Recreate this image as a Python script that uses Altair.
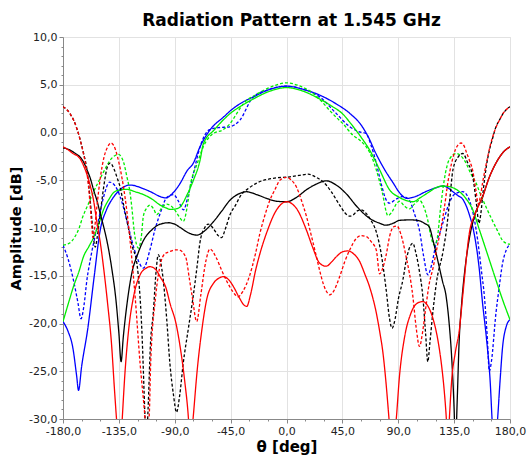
import altair as alt
import pandas as pd

# ---------------- data ----------------
blue_solid_theta = [-180, -176, -172, -169, -167.5, -165, -160, -155, -150, -145, -140, -135, -126, -115,
                    -108, -102, -97, -92, -86, -80, -75, -70, -62, -50, -45, -35, -27, -14, 0, 14, 27, 40,
                    51, 60, 66, 72, 80, 86, 91, 97, 104, 112, 120, 126, 130, 134, 138, 142, 147, 151, 155,
                    158, 161, 164, 166, 168, 170, 172, 174, 177, 180]
blue_solid_amp = [-19.8, -20.8, -22.6, -25.5, -27.0, -24.5, -20.5, -15.2, -10.2, -8.1, -6.9, -6.1, -5.5, -5.9,
                  -6.3, -6.7, -6.85, -6.4, -5.4, -4.0, -3.2, -1.6, 0.2, 1.7, 2.3, 3.2, 3.7, 4.5, 4.85, 4.5, 3.9,
                  3.0, 2.0, 0.8, -0.5, -2.2, -4.1, -5.3, -6.3, -6.9, -6.7, -6.2, -5.8, -5.6, -5.8, -6.2, -6.6,
                  -7.0, -8.5, -10.5, -14.0, -18.0, -21.5, -26.0, -31.0, -33.0, -30.0, -26.0, -22.5, -20.3, -19.6]

blue_dash_theta = [-180, -176, -171.5, -168, -165.5, -163, -160.7, -158, -155.4, -152.7, -147.4, -142.5, -138,
                   -134, -128.6, -124.6, -120.6, -115.2, -110, -106, -101, -96.5, -91, -87, -83, -79, -75,
                   -69.6, -62, -55, -45.6, -37.5, -27, -14, 0, 14, 27, 40, 51, 58, 64, 68, 72.3, 76.5, 80.4,
                   83, 88, 93.7, 99, 103, 107, 110.5, 113.8, 117, 120.5, 124, 127, 131, 136, 142, 147.3, 151,
                   154, 157, 159.4, 161.5, 163.4, 165, 168.7, 171, 174, 177, 180]
blue_dash_amp = [-11.8, -13.2, -15.5, -17.8, -19.5, -18.0, -15.4, -13.3, -11.6, -10.0, -6.8, -5.2, -5.6, -6.7,
                 -9.2, -11.3, -13.0, -14.2, -12.3, -10.2, -8.2, -6.8, -6.5, -7.2, -8.1, -6.5, -4.3, -1.5, 0.3,
                 0.5, 0.6, 1.3, 3.7, 4.5, 4.85, 4.5, 3.7, 2.0, 0.6, 0.1, -0.1, -1.3, -3.2, -5.5, -7.1, -7.4,
                 -7.0, -6.7, -7.1, -8.5, -10.2, -13.0, -14.9, -13.8, -11.6, -10.3, -9.0, -7.4, -6.4, -6.2,
                 -7.1, -8.9, -11.3, -14.5, -17.2, -21.0, -25.0, -24.0, -18.9, -16.5, -13.7, -12.3, -11.7]

green_solid_theta = [-180, -175, -171.5, -167, -163.5, -159, -155.4, -151, -147.4, -143, -139.3, -134, -128.6,
                     -122, -115.2, -108, -101.8, -97, -93.8, -89, -85.7, -80, -75, -69.6, -67, -58, -45.6, -35,
                     -26.9, -14, 0, 14, 26.8, 36, 45.6, 52, 59, 67, 75, 83, 91, 96, 101.8, 108, 115.2, 120,
                     125.9, 132, 139.3, 145, 150, 155.4, 162, 168.7, 174, 180]
green_solid_amp = [-19.8, -17.6, -16.1, -14.5, -13.0, -11.9, -11.0, -9.5, -8.1, -7.0, -6.3, -6.0, -5.95, -6.2,
                   -6.5, -7.0, -7.6, -7.9, -8.05, -8.0, -7.8, -6.5, -5.0, -2.9, -1.2, 0.3, 1.96, 2.9, 3.5,
                   4.3, 4.7, 4.3, 3.5, 2.8, 1.9, 0.9, -0.3, -1.85, -3.9, -6.0, -6.8, -7.1, -7.25, -6.8, -6.2,
                   -5.8, -5.6, -5.7, -6.2, -7.0, -8.1, -10.2, -12.8, -15.45, -17.5, -19.6]

green_dash_theta = [-180, -175, -170.8, -167, -164, -160, -156, -152, -148, -144, -140, -135.3, -131, -128.6,
                    -126, -124.6, -122.5, -119.2, -117, -115.2, -112.5, -110, -107, -104.5, -100, -96.5, -93,
                    -90, -86.5, -83.1, -80, -77.7, -72, -67, -60, -51, -45.6, -40, -34.8, -24.1, -12, 0, 10,
                    21.4, 28, 34.8, 40, 45.6, 53.6, 59, 63, 67, 72.3, 77, 81.7, 85, 88.4, 91, 95, 99, 103, 107,
                    110, 113.8, 116.5, 119.2, 121.5, 124, 127, 131.2, 136.6, 140, 144.6, 148, 152.7, 156, 160.7,
                    165, 170, 174, 177, 180]
green_dash_amp = [-11.8, -11.6, -11.0, -10.0, -8.8, -7.6, -6.4, -5.3, -4.3, -3.3, -2.6, -2.3, -3.2, -4.6, -6.3,
                  -7.8, -10.5, -12.1, -11.0, -8.7, -7.9, -7.6, -8.0, -8.6, -7.8, -7.5, -7.7, -8.1, -8.8, -9.3,
                  -7.8, -5.7, -3.3, -1.5, -0.2, 0.3, 0.9, 2.0, 3.0, 4.0, 4.8, 5.2, 4.9, 4.1, 3.3, 2.3, 1.6,
                  0.9, -0.3, -0.8, -1.3, -2.1, -3.9, -6.2, -8.7, -8.3, -7.5, -7.2, -7.7, -8.0, -7.5, -7.1,
                  -7.6, -9.2, -11.0, -11.8, -11.0, -8.0, -5.0, -2.8, -2.2, -2.4, -3.2, -4.2, -5.3, -6.4, -7.8,
                  -9.0, -10.3, -11.3, -11.6, -11.7]

black_solid_theta = [-180, -175, -170, -166, -163, -160.7, -158, -155.4, -152.5, -150, -147, -144.7, -141, -137,
                     -135, -133.2, -131.5, -128, -124.6, -120, -115.2, -108.5, -101.8, -95, -90, -85.7, -79,
                     -72.3, -65, -58.9, -52, -45.6, -38, -32.2, -24, -16, -8, 0, 8, 16, 24, 32, 40, 48, 57, 67,
                     75, 80, 86, 91, 100, 107, 111, 115, 118, 122, 125.5, 128.6, 131, 133, 135, 136, 137.5, 139,
                     141, 144, 147, 152, 158, 163, 168.7, 175, 180]
black_solid_amp = [-1.6, -1.8, -2.2, -2.6, -3.2, -3.9, -4.8, -6.0, -7.2, -8.5, -10.0, -11.3, -14.0, -18.0, -21.0,
                   -24.0, -21.5, -17.5, -14.75, -12.8, -11.3, -10.2, -9.6, -9.45, -9.6, -9.94, -10.5, -10.74,
                   -10.2, -9.35, -8.2, -7.1, -6.4, -6.2, -6.5, -6.9, -7.2, -7.25, -6.8, -6.0, -5.4, -5.06, -5.5,
                   -6.4, -7.8, -9.0, -9.5, -9.7, -9.5, -9.2, -9.15, -9.25, -9.5, -9.9, -11.3, -13.5, -15.5,
                   -17.2, -20.0, -23.5, -29.0, -33.0, -28.0, -22.0, -18.0, -14.0, -11.3, -8.5, -6.7, -4.8, -3.2,
                   -2.0, -1.5]

black_dash_theta = [-180, -177, -174, -171.5, -168.8, -166.1, -163.4, -160.7, -158.5, -156.7, -155, -154, -152.5,
                    -150, -147, -144.5, -142, -139, -136, -134, -131, -127, -124, -120.5, -116.5, -114, -113,
                    -111.5, -109.5, -107.3, -105, -103.3, -101.5, -99.3, -96.5, -93.9, -91, -88.6, -86, -83.2,
                    -79, -75.2, -72, -69.8, -66, -63, -58.9, -55, -52.3, -49, -45.6, -41, -37.5, -30, -24.1,
                    -10.7, 2.7, 10, 17.4, 24, 29.5, 36, 42.8, 47, 50.9, 54, 57, 60.3, 62, 64.3, 68, 72.3, 76,
                    80.3, 83, 85, 87.5, 90, 93.7, 97, 101.8, 104, 107, 109.8, 112, 113.8, 115.5, 117.8, 121, 126,
                    129, 131.5, 134, 138, 142, 146, 150, 153, 155, 156.5, 158.5, 161, 163.5, 166, 168.7, 171.5,
                    174, 177, 180]
black_dash_amp = [2.7, 2.4, 1.9, 1.3, 0.4, -0.8, -2.2, -3.9, -6.5, -9.2, -11.5, -12.0, -11.0, -8.5, -5.5, -3.7,
                  -3.2, -3.8, -4.9, -5.7, -7.7, -10.2, -12.0, -13.7, -20.7, -29.7, -33.0, -29.0, -22.0, -18.9,
                  -14.5, -12.8, -13.5, -15.4, -19.5, -24.2, -27.5, -29.3, -27.5, -24.2, -20.5, -17.2, -14.0,
                  -11.6, -10.0, -9.6, -10.05, -10.8, -11.0, -10.0, -8.65, -7.6, -6.73, -5.8, -5.3, -4.8, -4.64,
                  -4.5, -4.36, -4.7, -5.16, -6.2, -7.6, -8.4, -8.75, -8.6, -8.2, -8.1, -8.2, -8.5, -9.2, -10.4,
                  -12.5, -16.5, -19.5, -20.5, -19.5, -17.5, -15.45, -13.0, -11.6, -12.5, -14.5, -17.2, -21.0,
                  -24.0, -22.0, -18.9, -15.5, -12.5, -10.0, -7.0, -3.94, -2.6, -2.2, -3.2, -4.6, -7.5, -9.5,
                  -8.5, -6.0, -3.5, -1.8, -0.6, 0.6, 1.3, 1.9, 2.4, 2.7]

red_solid_theta = [-180, -176, -172, -168, -166, -163, -160.7, -158, -155.4, -152.7, -150, -147, -144, -141,
                   -138.5, -136.3, -134, -132.3, -130, -127, -123.2, -117.9, -113, -109.8, -105, -101.8, -97,
                   -93.8, -89, -85.7, -82, -79, -77.5, -75.2, -72, -68, -64.3, -58.9, -55, -50.9, -46, -42.9,
                   -38, -34, -32, -29, -25, -21, -16, -8, 0, 8, 16, 21, 26.8, 32, 36, 40.2, 45, 49.5, 54, 58.9,
                   63, 67, 72.5, 75, 77.7, 80, 82.5, 85, 88.4, 91, 95, 100, 105, 109.8, 114, 118, 122, 125, 127,
                   128.6, 130, 131.2, 133, 136, 139.2, 142, 147.3, 152, 158, 163, 168.7, 175, 180]
red_solid_amp = [-1.5, -1.8, -2.2, -2.5, -2.8, -3.6, -4.4, -5.6, -7.1, -9.4, -11.5, -14.5, -18.0, -22.0, -27.0,
                 -31.0, -34.0, -30.0, -25.0, -20.5, -17.2, -14.9, -14.2, -14.05, -14.4, -15.1, -16.3, -17.9,
                 -20.0, -22.4, -26.0, -29.9, -33.0, -29.9, -25.0, -20.5, -17.5, -15.8, -15.3, -15.1, -15.5,
                 -16.1, -17.3, -18.1, -18.2, -17.0, -14.5, -12.5, -10.5, -8.1, -7.25, -7.95, -10.2, -12.0,
                 -13.7, -14.0, -13.6, -13.0, -12.5, -12.4, -12.7, -13.5, -14.8, -16.2, -19.0, -20.8, -23.1,
                 -26.0, -29.9, -34.0, -30.0, -25.5, -21.5, -19.0, -17.9, -17.7, -18.2, -19.5, -21.8, -24.5,
                 -27.0, -29.7, -33.0, -29.9, -26.0, -23.0, -20.7, -17.0, -10.5, -8.5, -6.7, -4.8, -3.2,
                 -2.0, -1.5]

red_dash_theta = [-180, -177, -174, -171.5, -168.8, -166.1, -163.4, -160.7, -158.5, -157, -155.8, -154.5, -152.5,
                  -150, -147, -144, -141.5, -139, -136, -131.3, -128.6, -126, -121.9, -117.9, -114.5, -112.5,
                  -110.5, -109.4, -105.4, -101.4, -98, -94.7, -90, -86.7, -81.3, -78, -75.9, -72.3, -69, -65,
                  -61.6, -57, -52, -48, -43, -39, -35, -30, -25, -21.5, -17, -13.4, -9, -5.4, 0, 4, 8, 12,
                  16.1, 20, 24.1, 27, 29.5, 32, 34.8, 38, 42.8, 47, 50.9, 56.2, 60, 64.3, 68, 72.3, 75, 78,
                  80.3, 83, 86, 89, 92, 96, 101.8, 104.5, 107.1, 109.5, 112, 115, 118, 121, 124, 127, 130,
                  133, 136, 140.6, 143, 145, 147.3, 150, 152.5, 154.5, 156, 158, 161, 164, 168, 171.5, 175, 180]
red_dash_amp = [2.7, 2.4, 1.9, 1.3, 0.4, -0.8, -2.3, -4.2, -7.0, -9.5, -11.0, -10.0, -7.5, -4.8, -2.6, -1.5, -1.1,
                -1.4, -2.6, -5.7, -8.2, -11.3, -17.2, -24.2, -29.0, -32.0, -29.5, -24.2, -17.2, -13.7, -12.7,
                -12.5, -12.3, -12.3, -13.0, -15.5, -17.2, -19.8, -17.0, -13.5, -12.2, -13.0, -14.5, -15.6,
                -16.7, -17.2, -16.6, -15.1, -12.7, -10.6, -8.5, -7.1, -5.9, -5.0, -4.7, -5.0, -5.7, -7.1,
                -8.8, -10.8, -13.0, -14.6, -15.8, -16.6, -17.0, -16.6, -15.1, -13.5, -12.3, -11.1, -10.8,
                -10.9, -11.4, -12.3, -14.8, -14.0, -12.8, -10.9, -9.9, -9.8, -10.6, -12.8, -17.2, -20.5,
                -22.4, -21.0, -18.5, -15.8, -14.2, -12.2, -10.3, -8.0, -5.2, -3.2, -1.8, -1.1, -1.4, -2.1,
                -2.9, -4.0, -6.0, -7.5, -6.8, -5.2, -3.2, -1.4, 0.3, 1.3, 2.1, 2.7]

series = [
    ("blue solid", blue_solid_theta, blue_solid_amp),
    ("blue dashed", blue_dash_theta, blue_dash_amp),
    ("green solid", green_solid_theta, green_solid_amp),
    ("green dashed", green_dash_theta, green_dash_amp),
    ("black solid", black_solid_theta, black_solid_amp),
    ("black dashed", black_dash_theta, black_dash_amp),
    ("red solid", red_solid_theta, red_solid_amp),
    ("red dashed", red_dash_theta, red_dash_amp),
]
names = [s[0] for s in series]
colors = ["#0000ff", "#0000ff", "#00ee00", "#00ee00", "#000000", "#000000", "#ff0000", "#ff0000"]
dashes = [[1, 0], [3, 2], [1, 0], [3, 2], [1, 0], [3, 2], [1, 0], [3, 2]]

rows = []
for name, th, amp in series:
    for t, a in zip(th, amp):
        rows.append({"series": name, "theta": t, "amp": a})
df = pd.DataFrame(rows)

x_ticks = list(range(-180, 181, 15))
y_ticks = list(range(-30, 11, 1))

FONT = "DejaVu Sans"

x_axis = alt.Axis(
    values=x_ticks,
    labelExpr="datum.value % 45 === 0 ? toString(datum.value) + ',0' : ''",
    labelOverlap=False, labelFlush=False,
    labelFont=FONT, labelFontSize=11, labelColor="#222222", labelPadding=2,
    tickSize={"condition": {"test": "datum.value % 45 === 0", "value": 4}, "value": 2},
    tickColor="#888888",
    gridOpacity={"condition": {"test": "datum.value % 45 === 0", "value": 1}, "value": 0},
    gridColor="#e2e2e2",
    domainColor="#888888",
    title="θ [deg]", titleFont=FONT, titleFontSize=15, titleFontWeight="bold", titleColor="#000000",
    titleY=20, titleBaseline="top",
)
y_axis = alt.Axis(
    values=y_ticks,
    labelExpr="datum.value % 5 === 0 ? toString(datum.value) + ',0' : ''",
    labelOverlap=False, labelFlush=False,
    labelFont=FONT, labelFontSize=11, labelColor="#222222", labelPadding=2,
    tickSize={"condition": {"test": "datum.value % 5 === 0", "value": 4}, "value": 2},
    tickColor="#888888",
    gridOpacity={"condition": {"test": "datum.value % 5 === 0", "value": 1}, "value": 0},
    gridColor="#e2e2e2",
    domainColor="#888888",
    title="Amplitude [dB]", titleFont=FONT, titleFontSize=14.5, titleFontWeight="bold", titleColor="#000000",
    titleX=-40, titleY=191,
)

chart = alt.Chart(df).mark_line(clip=True, strokeWidth=1.3, interpolate="monotone").encode(
    x=alt.X("theta:Q", scale=alt.Scale(domain=[-180, 180], nice=False, zero=False), axis=x_axis),
    y=alt.Y("amp:Q", scale=alt.Scale(domain=[-30, 10], nice=False, zero=False), axis=y_axis),
    color=alt.Color("series:N", scale=alt.Scale(domain=names, range=colors), legend=None),
    strokeDash=alt.StrokeDash("series:N", scale=alt.Scale(domain=names, range=dashes), legend=None),
    detail="series:N",
).properties(
    width=447,
    height=382,
    title=alt.TitleParams("Radiation Pattern at 1.545 GHz", font=FONT, fontSize=17, fontWeight="bold",
                          color="#000000", anchor="middle", frame="group", offset=11, baseline="alphabetic",
                          dy=23, dx=5),
    autosize=alt.AutoSizeParams(type="none"),
    padding={"left": 63, "top": 37, "right": 18, "bottom": 38},
).configure_view(
    stroke="#d8d8d8", strokeWidth=1
).configure(background="white")

chart.save("out.html", embed_options={"renderer": "svg", "actions": False})
